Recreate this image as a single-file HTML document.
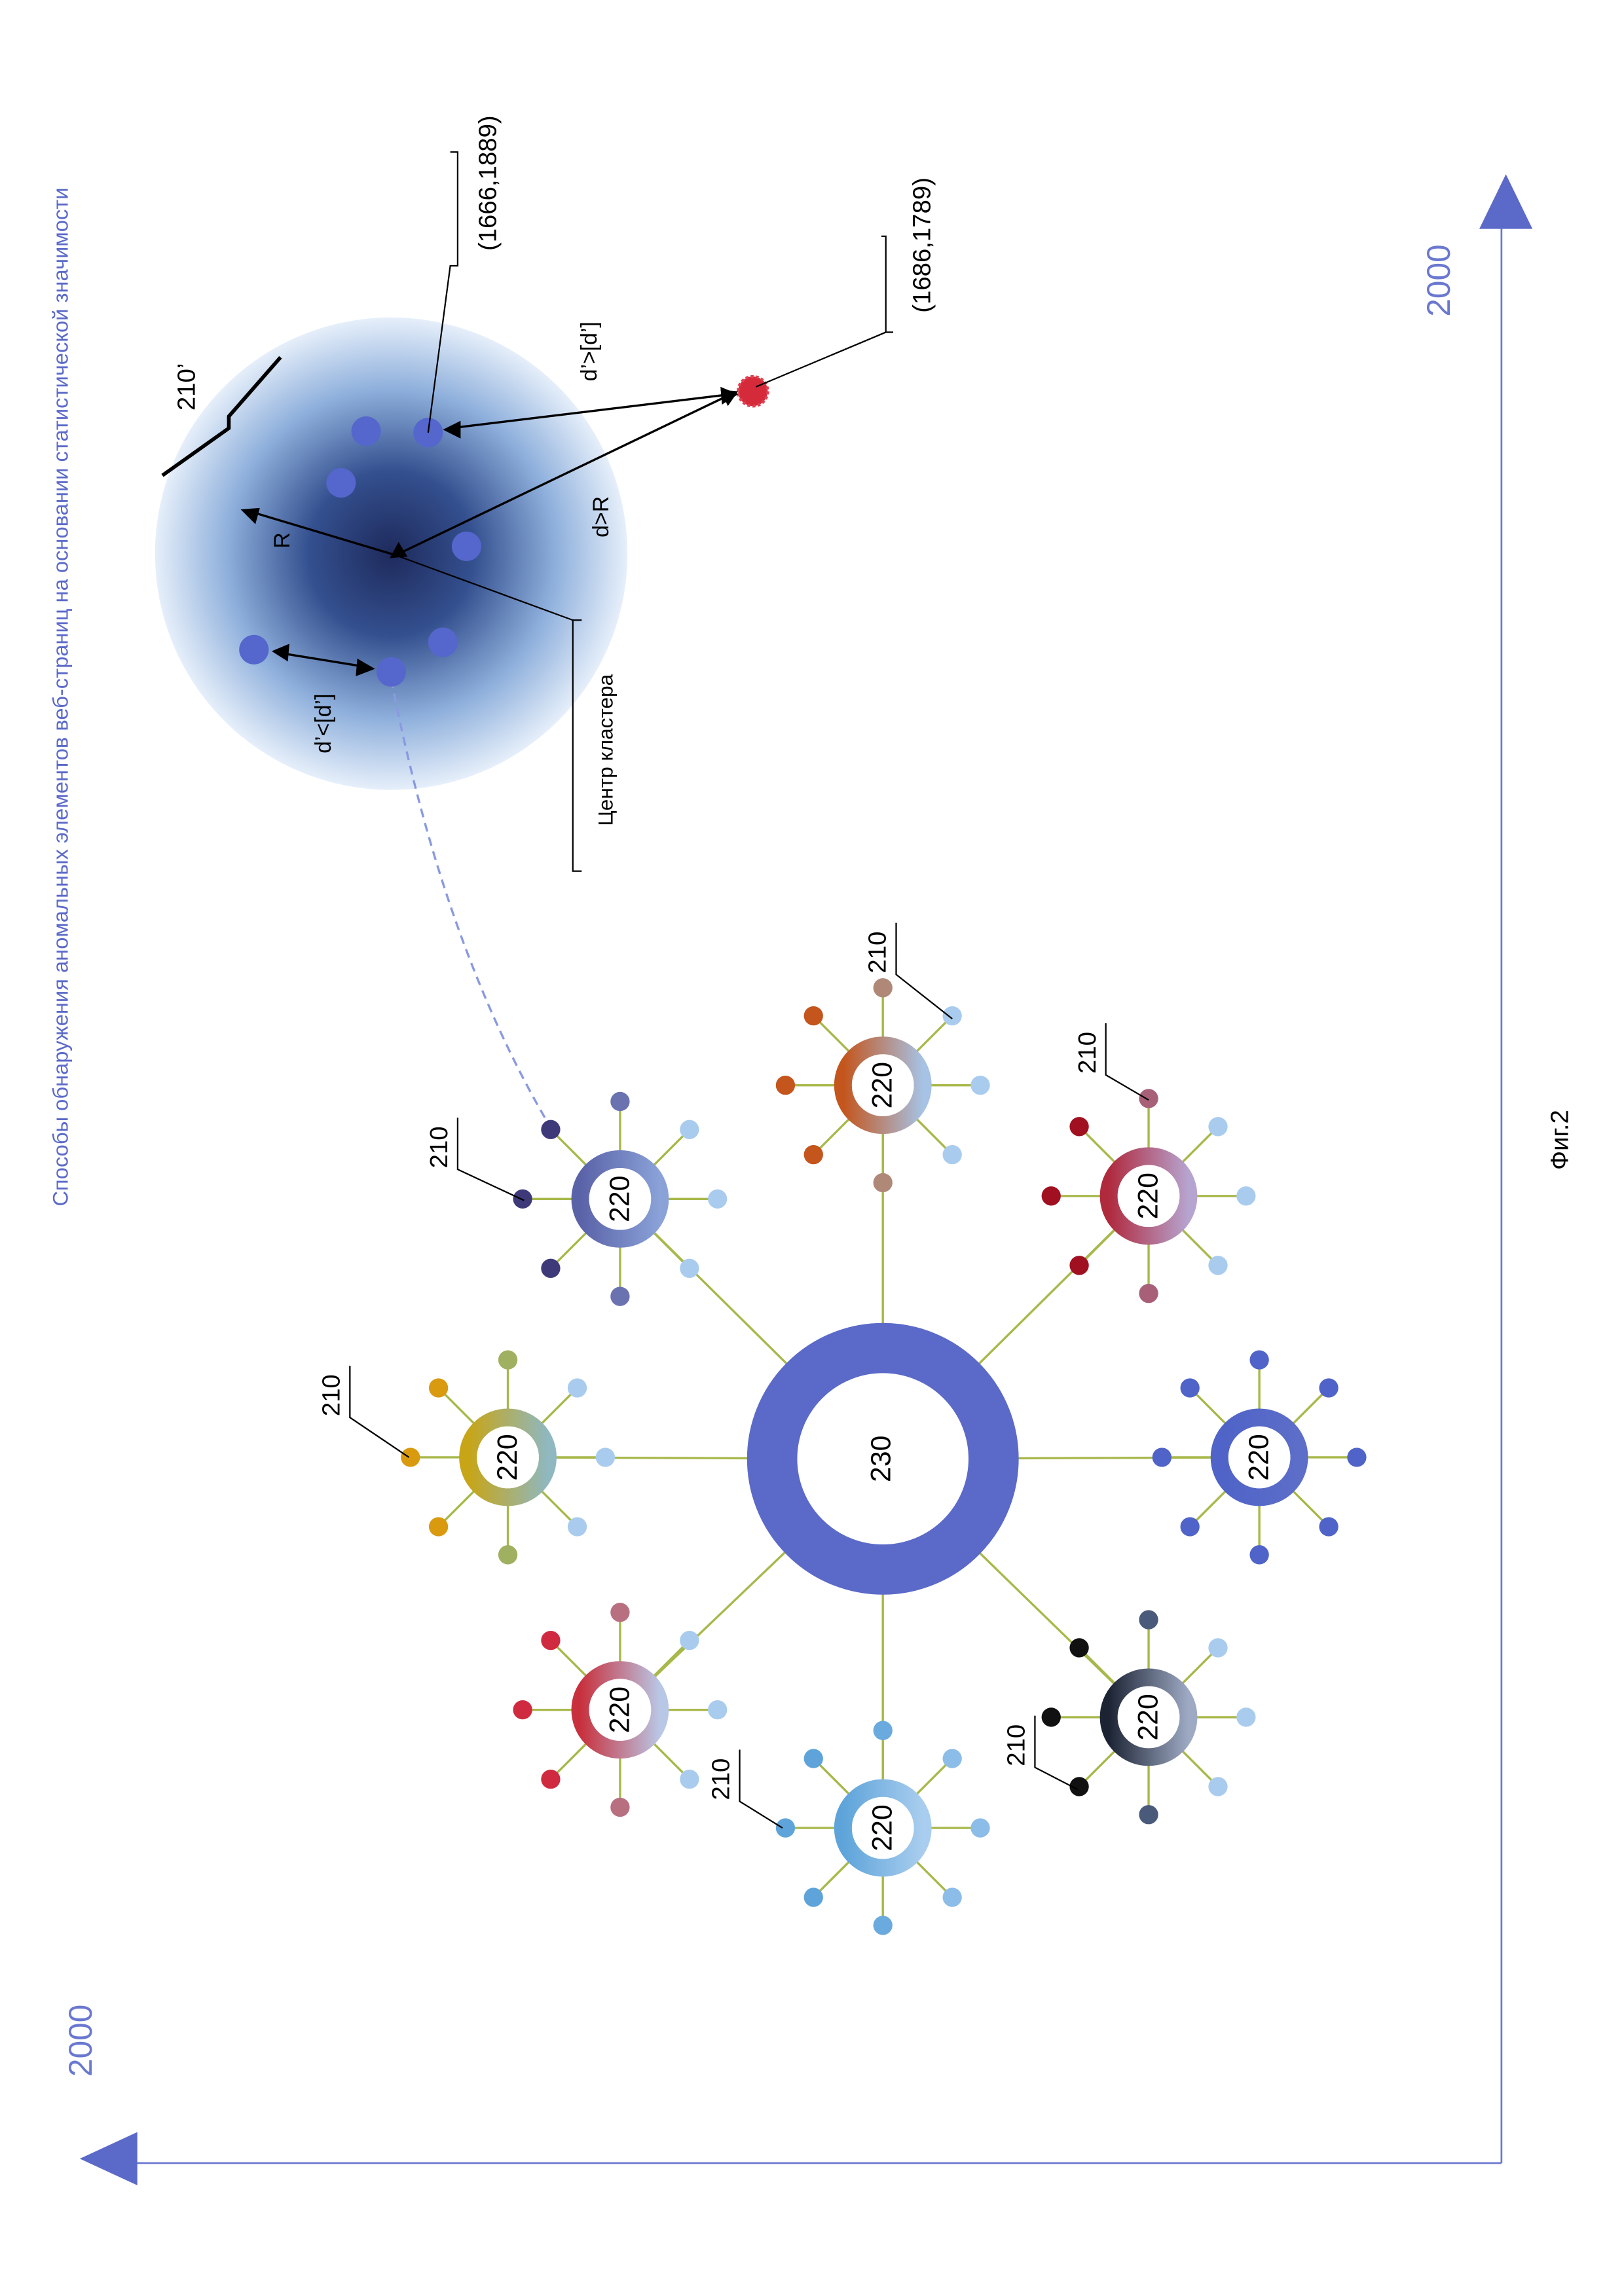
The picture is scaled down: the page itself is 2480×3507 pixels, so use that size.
<!DOCTYPE html>
<html><head><meta charset="utf-8"><style>html,body{margin:0;padding:0;background:#fff}svg{display:block}</style></head>
<body>
<svg width="2480" height="3507" viewBox="0 0 1100 1555" preserveAspectRatio="none" xmlns="http://www.w3.org/2000/svg" font-family="Liberation Sans, DejaVu Sans, sans-serif">
<defs>
<radialGradient id="cl" cx="0.5" cy="0.5" r="0.5">
<stop offset="0" stop-color="#1e2a5c"/><stop offset="0.35" stop-color="#34508f"/><stop offset="0.7" stop-color="#8fb0dc"/><stop offset="1" stop-color="#e6effa"/>
</radialGradient>
<linearGradient id="g1" x1="0" y1="0" x2="1" y2="0"><stop offset="0" stop-color="#c7a516"/><stop offset="1" stop-color="#8fb8c0"/></linearGradient>
<linearGradient id="g2" x1="0" y1="0" x2="1" y2="0"><stop offset="0" stop-color="#c8303d"/><stop offset="1" stop-color="#b9c7e6"/></linearGradient>
<linearGradient id="g3" x1="0" y1="0" x2="1" y2="0"><stop offset="0" stop-color="#5ea4da"/><stop offset="1" stop-color="#a9cdee"/></linearGradient>
<linearGradient id="g4" x1="0" y1="0" x2="1" y2="0"><stop offset="0" stop-color="#1c2434"/><stop offset="1" stop-color="#9eaac4"/></linearGradient>
<linearGradient id="g5" x1="0" y1="0" x2="1" y2="0"><stop offset="0" stop-color="#4f63c8"/><stop offset="1" stop-color="#5c6ec8"/></linearGradient>
<linearGradient id="g6" x1="0" y1="0" x2="1" y2="0"><stop offset="0" stop-color="#b02a3e"/><stop offset="1" stop-color="#b6a4d0"/></linearGradient>
<linearGradient id="g7" x1="0" y1="0" x2="1" y2="0"><stop offset="0" stop-color="#c4551c"/><stop offset="1" stop-color="#a6c2e4"/></linearGradient>
<linearGradient id="g8" x1="0" y1="0" x2="1" y2="0"><stop offset="0" stop-color="#5a62a8"/><stop offset="1" stop-color="#8aa2d8"/></linearGradient>
</defs>
<g stroke="#6a78d0" stroke-width="1.2" fill="none">
<line x1="1017" y1="150" x2="1017" y2="1465"/>
<line x1="80" y1="1465" x2="1017" y2="1465"/>
</g>
<polygon points="1020,118 1038,155 1002,155" fill="#5b6ac8"/>
<polygon points="54,1462 93,1444 93,1480" fill="#5b6ac8"/>
<text x="982" y="190" font-size="22" fill="#6a78d0" transform="rotate(-90 982 190)" text-anchor="middle">2000</text>
<text x="62" y="1382" font-size="22" fill="#6a78d0" transform="rotate(-90 62 1382)" text-anchor="middle">2000</text>
<text x="46" y="472" font-size="14.5" fill="#5b6ac8" transform="rotate(-90 46 472)" text-anchor="middle">Способы обнаружения аномальных элементов веб-страниц на основании статистической значимости</text>
<text x="1062" y="772" font-size="17" fill="#000" transform="rotate(-90 1062 772)" text-anchor="middle">Фиг.2</text>
<ellipse cx="265" cy="375" rx="160" ry="160" fill="url(#cl)"/>
<path d="M265,460 Q300,640 372,762" stroke="#8a9ae0" stroke-width="1.5" stroke-dasharray="6,4" fill="none"/>
<g fill="#5566cc">
<circle cx="172" cy="440" r="10"/><circle cx="265" cy="455" r="10"/><circle cx="300" cy="435" r="10"/>
<circle cx="316" cy="370" r="10"/><circle cx="231" cy="327" r="10"/><circle cx="248" cy="292" r="10"/><circle cx="290" cy="293" r="10"/>
</g>
<circle cx="510" cy="265" r="10" fill="#d42a3a" stroke="#e04050" stroke-width="2" stroke-dasharray="2,1.5"/>
<g stroke="#000" stroke-width="1.5" fill="none">
<line x1="188" y1="442" x2="250" y2="452"/>
<line x1="268" y1="376" x2="168" y2="346"/>
<line x1="268" y1="376" x2="495" y2="267"/>
<line x1="305" y1="290" x2="495" y2="267"/>
<polyline stroke-width="1" points="268,376 388,420 388,590 394,590"/>
<polyline stroke-width="1" points="388,420 394,420"/>
<polyline stroke-width="1" points="290,293 305,180 310,180 310,103 305,103"/>
<polyline stroke-width="1" points="512,262 600,225 600,160 597,160"/>
<polyline stroke-width="1" points="600,225 605,225"/>
<polyline stroke-width="2.5" points="110,322 155,290 155,282 190,242"/>
</g>
<g fill="#000">
<polygon points="184,441 196,436 195,448"/><polygon points="254,453 242,446 241,458"/>
<polygon points="163,345 176,344 173,355"/><polygon points="264,378 270,367 276,377"/>
<polygon points="500,265 488,264 493,275"/><polygon points="300,291 312,285 312,297"/><polygon points="500,267 488,262 489,274"/>
</g>
<g font-size="15" fill="#000">
<text x="224" y="490" transform="rotate(-90 224 490)" text-anchor="middle">d’&lt;[d’]</text>
<text x="196" y="366" transform="rotate(-90 196 366)" text-anchor="middle">R</text>
<text x="412" y="350" transform="rotate(-90 412 350)" text-anchor="middle">d&gt;R</text>
<text x="404" y="238" transform="rotate(-90 404 238)" text-anchor="middle">d’&gt;[d’]</text>
<text x="415" y="508" font-size="14" transform="rotate(-90 415 508)" text-anchor="middle">Центр кластера</text>
<text x="336" y="124" font-size="17" transform="rotate(-90 336 124)" text-anchor="middle">(1666,1889)</text>
<text x="630" y="166" font-size="17" transform="rotate(-90 630 166)" text-anchor="middle">(1686,1789)</text>
<text x="132" y="262" font-size="17" transform="rotate(-90 132 262)" text-anchor="middle">210’</text>
</g>
<g stroke="#a8b84a" stroke-width="1.5">
<line x1="598" y1="988" x2="344" y2="987"/><line x1="598" y1="988" x2="420" y2="1158"/>
<line x1="598" y1="988" x2="598" y2="1238"/><line x1="598" y1="988" x2="778" y2="1163"/>
<line x1="598" y1="988" x2="853" y2="987"/><line x1="598" y1="988" x2="778" y2="810"/>
<line x1="598" y1="988" x2="598" y2="735"/><line x1="598" y1="988" x2="420" y2="812"/>
</g>
<circle cx="598" cy="988" r="75" fill="#fff" stroke="#5b6ac8" stroke-width="34"/>
<text x="603" y="988" font-size="19" transform="rotate(-90 603 988)" text-anchor="middle">230</text>
<g font-size="19">
<g transform="translate(344,987)"><g stroke="#a8b84a" stroke-width="1.5"><line x1="-66" y1="0" x2="66" y2="0"/><line x1="0" y1="-66" x2="0" y2="66"/><line x1="-47" y1="-47" x2="47" y2="47"/><line x1="-47" y1="47" x2="47" y2="-47"/></g>
<circle r="27" fill="none" stroke="url(#g1)" stroke-width="12"/><circle r="21" fill="#fff"/>
<circle cx="-66" r="6.5" fill="#d99a10"/><circle cx="66" r="6.5" fill="#a9ccee"/><circle cy="-66" r="6.5" fill="#9fb060"/><circle cy="66" r="6.5" fill="#9fb060"/>
<circle cx="-47" cy="-47" r="6.5" fill="#d99a10"/><circle cx="-47" cy="47" r="6.5" fill="#d99a10"/><circle cx="47" cy="-47" r="6.5" fill="#a9ccee"/><circle cx="47" cy="47" r="6.5" fill="#a9ccee"/>
<text x="6" y="0" transform="rotate(-90 6 0)" text-anchor="middle">220</text></g>
<g transform="translate(420,1158)"><g stroke="#a8b84a" stroke-width="1.5"><line x1="-66" y1="0" x2="66" y2="0"/><line x1="0" y1="-66" x2="0" y2="66"/><line x1="-47" y1="-47" x2="47" y2="47"/><line x1="-47" y1="47" x2="47" y2="-47"/></g>
<circle r="27" fill="none" stroke="url(#g2)" stroke-width="12"/><circle r="21" fill="#fff"/>
<circle cx="-66" r="6.5" fill="#d02a40"/><circle cx="66" r="6.5" fill="#a9ccee"/><circle cy="-66" r="6.5" fill="#b87080"/><circle cy="66" r="6.5" fill="#b87080"/>
<circle cx="-47" cy="-47" r="6.5" fill="#d02a40"/><circle cx="-47" cy="47" r="6.5" fill="#d02a40"/><circle cx="47" cy="-47" r="6.5" fill="#a9ccee"/><circle cx="47" cy="47" r="6.5" fill="#a9ccee"/>
<text x="6" y="0" transform="rotate(-90 6 0)" text-anchor="middle">220</text></g>
<g transform="translate(598,1238)"><g stroke="#a8b84a" stroke-width="1.5"><line x1="-66" y1="0" x2="66" y2="0"/><line x1="0" y1="-66" x2="0" y2="66"/><line x1="-47" y1="-47" x2="47" y2="47"/><line x1="-47" y1="47" x2="47" y2="-47"/></g>
<circle r="27" fill="none" stroke="url(#g3)" stroke-width="12"/><circle r="21" fill="#fff"/>
<circle cx="-66" r="6.5" fill="#5ea4da"/><circle cx="66" r="6.5" fill="#8cbce8"/><circle cy="-66" r="6.5" fill="#6aaade"/><circle cy="66" r="6.5" fill="#6aaade"/>
<circle cx="-47" cy="-47" r="6.5" fill="#5ea4da"/><circle cx="-47" cy="47" r="6.5" fill="#5ea4da"/><circle cx="47" cy="-47" r="6.5" fill="#8cbce8"/><circle cx="47" cy="47" r="6.5" fill="#8cbce8"/>
<text x="6" y="0" transform="rotate(-90 6 0)" text-anchor="middle">220</text></g>
<g transform="translate(778,1163)"><g stroke="#a8b84a" stroke-width="1.5"><line x1="-66" y1="0" x2="66" y2="0"/><line x1="0" y1="-66" x2="0" y2="66"/><line x1="-47" y1="-47" x2="47" y2="47"/><line x1="-47" y1="47" x2="47" y2="-47"/></g>
<circle r="27" fill="none" stroke="url(#g4)" stroke-width="12"/><circle r="21" fill="#fff"/>
<circle cx="-66" r="6.5" fill="#111"/><circle cx="66" r="6.5" fill="#a9ccee"/><circle cy="-66" r="6.5" fill="#4a5a7a"/><circle cy="66" r="6.5" fill="#4a5a7a"/>
<circle cx="-47" cy="-47" r="6.5" fill="#111"/><circle cx="-47" cy="47" r="6.5" fill="#111"/><circle cx="47" cy="-47" r="6.5" fill="#a9ccee"/><circle cx="47" cy="47" r="6.5" fill="#a9ccee"/>
<text x="6" y="0" transform="rotate(-90 6 0)" text-anchor="middle">220</text></g>
<g transform="translate(853,987)"><g stroke="#a8b84a" stroke-width="1.5"><line x1="-66" y1="0" x2="66" y2="0"/><line x1="0" y1="-66" x2="0" y2="66"/><line x1="-47" y1="-47" x2="47" y2="47"/><line x1="-47" y1="47" x2="47" y2="-47"/></g>
<circle r="27" fill="none" stroke="url(#g5)" stroke-width="12"/><circle r="21" fill="#fff"/>
<circle cx="-66" r="6.5" fill="#4f63c8"/><circle cx="66" r="6.5" fill="#4f63c8"/><circle cy="-66" r="6.5" fill="#4f63c8"/><circle cy="66" r="6.5" fill="#4f63c8"/>
<circle cx="-47" cy="-47" r="6.5" fill="#4f63c8"/><circle cx="-47" cy="47" r="6.5" fill="#4f63c8"/><circle cx="47" cy="-47" r="6.5" fill="#4f63c8"/><circle cx="47" cy="47" r="6.5" fill="#4f63c8"/>
<text x="6" y="0" transform="rotate(-90 6 0)" text-anchor="middle">220</text></g>
<g transform="translate(778,810)"><g stroke="#a8b84a" stroke-width="1.5"><line x1="-66" y1="0" x2="66" y2="0"/><line x1="0" y1="-66" x2="0" y2="66"/><line x1="-47" y1="-47" x2="47" y2="47"/><line x1="-47" y1="47" x2="47" y2="-47"/></g>
<circle r="27" fill="none" stroke="url(#g6)" stroke-width="12"/><circle r="21" fill="#fff"/>
<circle cx="-66" r="6.5" fill="#a01020"/><circle cx="66" r="6.5" fill="#a9ccee"/><circle cy="-66" r="6.5" fill="#a86078"/><circle cy="66" r="6.5" fill="#a86078"/>
<circle cx="-47" cy="-47" r="6.5" fill="#a01020"/><circle cx="-47" cy="47" r="6.5" fill="#a01020"/><circle cx="47" cy="-47" r="6.5" fill="#a9ccee"/><circle cx="47" cy="47" r="6.5" fill="#a9ccee"/>
<text x="6" y="0" transform="rotate(-90 6 0)" text-anchor="middle">220</text></g>
<g transform="translate(598,735)"><g stroke="#a8b84a" stroke-width="1.5"><line x1="-66" y1="0" x2="66" y2="0"/><line x1="0" y1="-66" x2="0" y2="66"/><line x1="-47" y1="-47" x2="47" y2="47"/><line x1="-47" y1="47" x2="47" y2="-47"/></g>
<circle r="27" fill="none" stroke="url(#g7)" stroke-width="12"/><circle r="21" fill="#fff"/>
<circle cx="-66" r="6.5" fill="#c4551c"/><circle cx="66" r="6.5" fill="#a9ccee"/><circle cy="-66" r="6.5" fill="#b08878"/><circle cy="66" r="6.5" fill="#b08878"/>
<circle cx="-47" cy="-47" r="6.5" fill="#c4551c"/><circle cx="-47" cy="47" r="6.5" fill="#c4551c"/><circle cx="47" cy="-47" r="6.5" fill="#a9ccee"/><circle cx="47" cy="47" r="6.5" fill="#a9ccee"/>
<text x="6" y="0" transform="rotate(-90 6 0)" text-anchor="middle">220</text></g>
<g transform="translate(420,812)"><g stroke="#a8b84a" stroke-width="1.5"><line x1="-66" y1="0" x2="66" y2="0"/><line x1="0" y1="-66" x2="0" y2="66"/><line x1="-47" y1="-47" x2="47" y2="47"/><line x1="-47" y1="47" x2="47" y2="-47"/></g>
<circle r="27" fill="none" stroke="url(#g8)" stroke-width="12"/><circle r="21" fill="#fff"/>
<circle cx="-66" r="6.5" fill="#3e3a7a"/><circle cx="66" r="6.5" fill="#a9ccee"/><circle cy="-66" r="6.5" fill="#6a72b0"/><circle cy="66" r="6.5" fill="#6a72b0"/>
<circle cx="-47" cy="-47" r="6.5" fill="#3e3a7a"/><circle cx="-47" cy="47" r="6.5" fill="#3e3a7a"/><circle cx="47" cy="-47" r="6.5" fill="#a9ccee"/><circle cx="47" cy="47" r="6.5" fill="#a9ccee"/>
<text x="6" y="0" transform="rotate(-90 6 0)" text-anchor="middle">220</text></g>
</g>
<g font-size="17" fill="#000">
<text x="230" y="945" transform="rotate(-90 230 945)" text-anchor="middle">210</text>
<text x="303" y="777" transform="rotate(-90 303 777)" text-anchor="middle">210</text>
<text x="600" y="645" transform="rotate(-90 600 645)" text-anchor="middle">210</text>
<text x="742" y="713" transform="rotate(-90 742 713)" text-anchor="middle">210</text>
<text x="494" y="1205" transform="rotate(-90 494 1205)" text-anchor="middle">210</text>
<text x="694" y="1182" transform="rotate(-90 694 1182)" text-anchor="middle">210</text>
</g>
<g stroke="#000" stroke-width="1" fill="none">
<polyline points="237,925 237,960 277,987"/>
<polyline points="310,757 310,792 355,813"/>
<polyline points="607,625 607,660 645,690"/>
<polyline points="749,693 749,728 778,745"/>
<polyline points="501,1185 501,1220 530,1238"/>
<polyline points="701,1162 701,1197 730,1212"/>
</g>
</svg>
</body></html>
